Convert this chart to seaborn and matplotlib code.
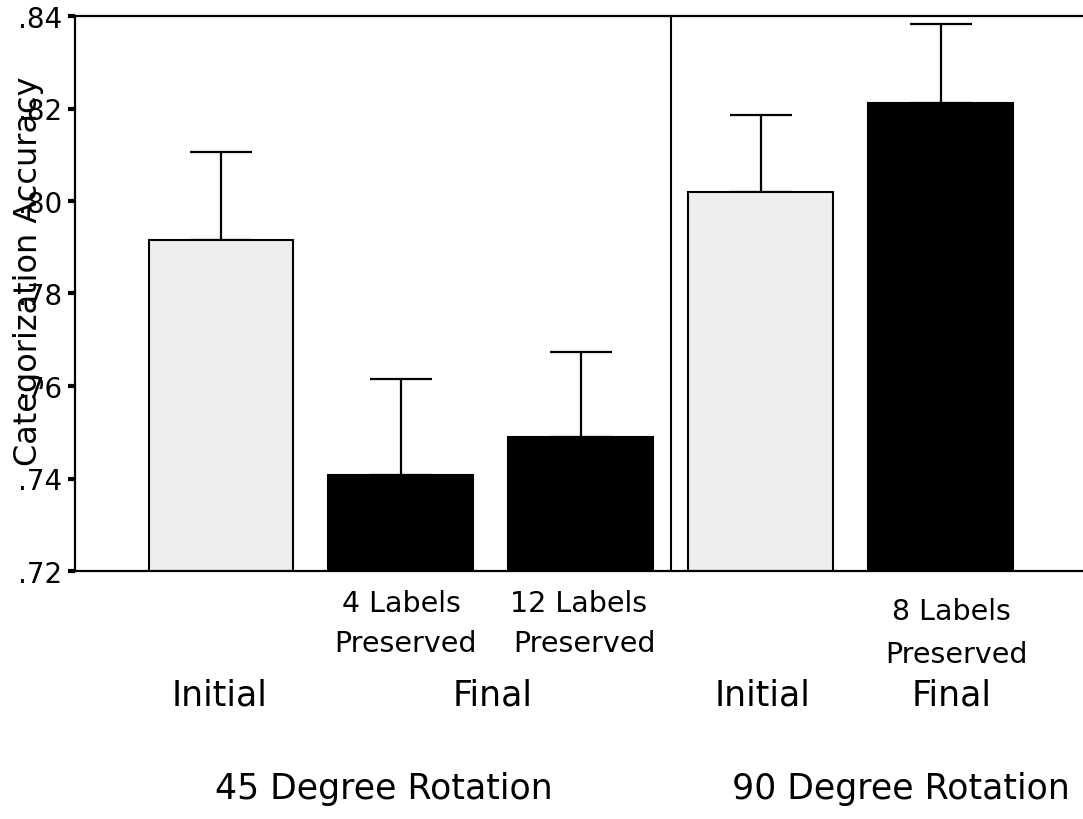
import numpy as np
import pandas as pd
import matplotlib
matplotlib.use("Agg")
import matplotlib.pyplot as plt
import seaborn as sns

# ---- data ----
conditions = ["45 Initial", "45 Final 4", "45 Final 12", "90 Initial", "90 Final 8"]
accuracy = [0.7916, 0.7408, 0.7490, 0.8019, 0.8212]
error_up = [0.0190, 0.0207, 0.0183, 0.0167, 0.0171]
bar_colors = ["#eeeeee", "#000000", "#000000", "#eeeeee", "#000000"]
yticks = [0.72, 0.74, 0.76, 0.78, 0.80, 0.82, 0.84]
ytick_labels = [".72", ".74", ".76", ".78", ".80", ".82", ".84"]

df = pd.DataFrame({"cond": conditions, "acc": accuracy})

sns.set_style("white")
plt.rcParams["font.family"] = ["DejaVu Sans"]
plt.rcParams["text.color"] = "black"
plt.rcParams["axes.labelcolor"] = "black"
plt.rcParams["ytick.color"] = "black"
plt.rcParams["xtick.color"] = "black"

W, H = 1083, 820
fig = plt.figure(figsize=(W / 100, H / 100), dpi=100)
ax = fig.add_axes([75 / W, (H - 572) / H, (W - 75) / W, 555 / H])

sns.barplot(data=df, x="cond", y="acc", hue="cond", order=conditions,
            hue_order=conditions, palette=bar_colors, width=0.806,
            edgecolor="black", linewidth=1.5, legend=False, ax=ax,
            errorbar=None, saturation=1)

xs = np.arange(len(conditions))
ax.errorbar(xs, accuracy, yerr=[np.zeros(len(xs)), error_up], fmt="none",
            ecolor="black", elinewidth=1.6, capsize=22, capthick=1.6, zorder=0.5)

ax.axvline(2.5, color="black", lw=1.5)

ax.set_ylim(0.72, 0.84)
ax.set_xlim(-0.8116, 4.792)
ax.set_yticks(yticks)
ax.set_yticklabels(ytick_labels)
ax.set_xticks([])
ax.set_xlabel("")
ax.set_ylabel("")
ax.tick_params(axis="y", direction="out", length=5, width=3, labelsize=20,
               pad=4, left=True, colors="black")

for s in ["left", "top", "bottom"]:
    ax.spines[s].set_visible(True)
    ax.spines[s].set_color("black")
    ax.spines[s].set_linewidth(1.6)
ax.spines["right"].set_visible(False)

def px(x, y):
    return x / W, 1 - y / H

fig.text(*px(29, 271), "Categorization Accuracy", rotation=90, ha="center",
         va="center", fontsize=23, color="black")

small = 20.5
for (x, y, t) in [(401, 612, "4 Labels"), (406, 652, "Preserved"),
                  (579, 612, "12 Labels"), (584, 652, "Preserved"),
                  (951, 620, "8 Labels"), (956, 663, "Preserved")]:
    fig.text(*px(x, y), t, ha="center", va="baseline", fontsize=small, color="black")

mid = 25
for (x, y, t) in [(220, 706, "Initial"), (493, 706, "Final"),
                  (763, 706, "Initial"), (952, 706, "Final")]:
    fig.text(*px(x, y), t, ha="center", va="baseline", fontsize=mid, color="black")

for (x, y, t) in [(384, 799, "45 Degree Rotation"), (901, 799, "90 Degree Rotation")]:
    fig.text(*px(x, y), t, ha="center", va="baseline", fontsize=mid, color="black")

fig.savefig("out.png", dpi=100)
